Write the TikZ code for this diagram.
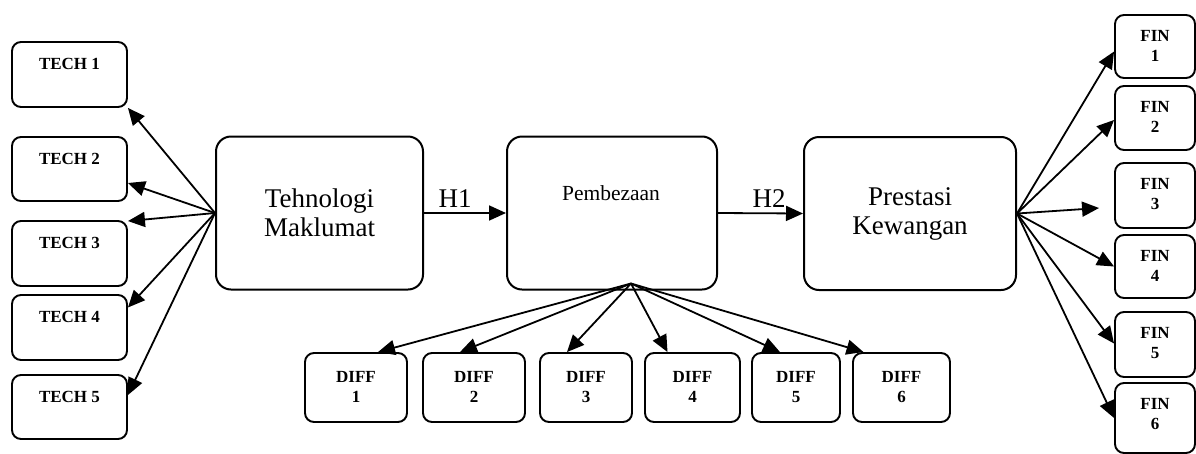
\documentclass[tikz,border=0pt]{standalone}
\usepackage{fontspec}
\setmainfont{Liberation Serif}
\usetikzlibrary{arrows.meta,calc}
\begin{document}
\begin{tikzpicture}[x=1pt,y=-1pt,
  bigbox/.style={draw,line width=2pt,rounded corners=15pt,minimum height=153pt,inner sep=0pt,align=center,font=\fontsize{27}{29}\selectfont},
  sbox/.style={draw,line width=1.9pt,rounded corners=9pt,inner sep=0pt},
  lab/.style={font=\bfseries\fontsize{17}{20}\selectfont,align=center,inner sep=0pt},
  hlab/.style={font=\fontsize{27}{29}\selectfont,inner sep=0pt},
  arr/.style={-{Triangle[length=17pt,width=15pt]},line width=1.8pt}
]
\useasboundingbox (0,0) rectangle (1196,453);

% main boxes
\node[bigbox,minimum width=207pt] (tm) at (319.5,213) {Tehnologi\\Maklumat};
\node[bigbox,minimum width=210pt] (pb) at (612,213) {};
\node[font=\fontsize{21.5}{24}\selectfont,inner sep=0pt] (pbt) at (611,193) {Pembezaan};
\node[bigbox,minimum width=212pt] (pk) at (910,213.5) {Prestasi\\Kewangan};

% TECH boxes
\foreach \i/\y/\h in {1/74.5/65,2/169/64,3/253.5/65,4/327.5/65,5/407/64}{
  \node[sbox,minimum width=115pt,minimum height=\h pt] (tech\i) at (69.5,\y) {};
  \node[lab] (tech\i t) at ($(tech\i.north)+(0,23)$) {TECH \i};
}

% DIFF boxes
\foreach \i/\x/\w in {1/356/102,2/474/102,3/586/92,4/692.5/95,5/796/88,6/901.5/97}{
  \node[sbox,minimum width=\w pt,minimum height=69pt] (d\i) at (\x,387.5) {};
  \node[lab] (d\i t) at ($(d\i.north)+(0,34.5)$) {DIFF\\\i};
}

% FIN boxes
\foreach \i/\y/\h in {1/46.5/63,2/118/64,3/195.5/65,4/266.5/63,5/344.5/65,6/418/70}{
  \node[sbox,minimum width=80pt,minimum height=\h pt] (f\i) at (1155,\y) {};
  \node[lab] (f\i t) at ($(f\i.north)+(0,32)$) {FIN\\\i};
}

% TECH arrows
\draw[arr] (tm.west) -- (tech1.south east);
\draw[arr] (tm.west) -- ($(tech2.east)+(0,14)$);
\draw[arr] (tm.west) -- ($(tech3.north east)+(0,1)$);
\draw[arr] (tm.west) -- ($(tech4.east)+(0,-20)$);
\draw[arr] (tm.west) -- ($(tech5.east)+(0,-12)$);

% H arrows
\draw[arr] (tm.east) -- (pb.west);
\node[hlab] (h1) at (455,199) {H1};
\draw[arr] (pb.east) -- (pk.west);
\node[hlab] (h2) at (769,199) {H2};

% DIFF arrows
\coordinate (dsrc) at ($(pb.south)+(19,-7)$);
\draw[arr] (dsrc) -- ($(d1.north)+(22,0)$);
\draw[arr] (dsrc) -- ($(d2.north)+(-14,0)$);
\draw[arr] (dsrc) -- ($(d3.north)+(-19,0)$);
\draw[arr] (dsrc) -- ($(d4.north)+(-25,0)$);
\draw[arr] (dsrc) -- ($(d5.north)+(-16,0)$);
\draw[arr] (dsrc) -- ($(d6.north)+(-38,0)$);

% FIN arrows
\coordinate (f3end) at ($(f3.west)+(-15,12.5)$);
\draw[arr] (pk.east) -- ($(f1.west)+(0,5)$);
\draw[arr] (pk.east) -- ($(f2.west)+(0,2)$);
\draw[arr] (pk.east) -- (f3end);
\draw[arr] (pk.east) -- (f4.west);
\draw[arr] (pk.east) -- ($(f5.west)+(0,-1)$);
\draw[arr] (pk.east) -- (f6.west);
\end{tikzpicture}
\end{document}
